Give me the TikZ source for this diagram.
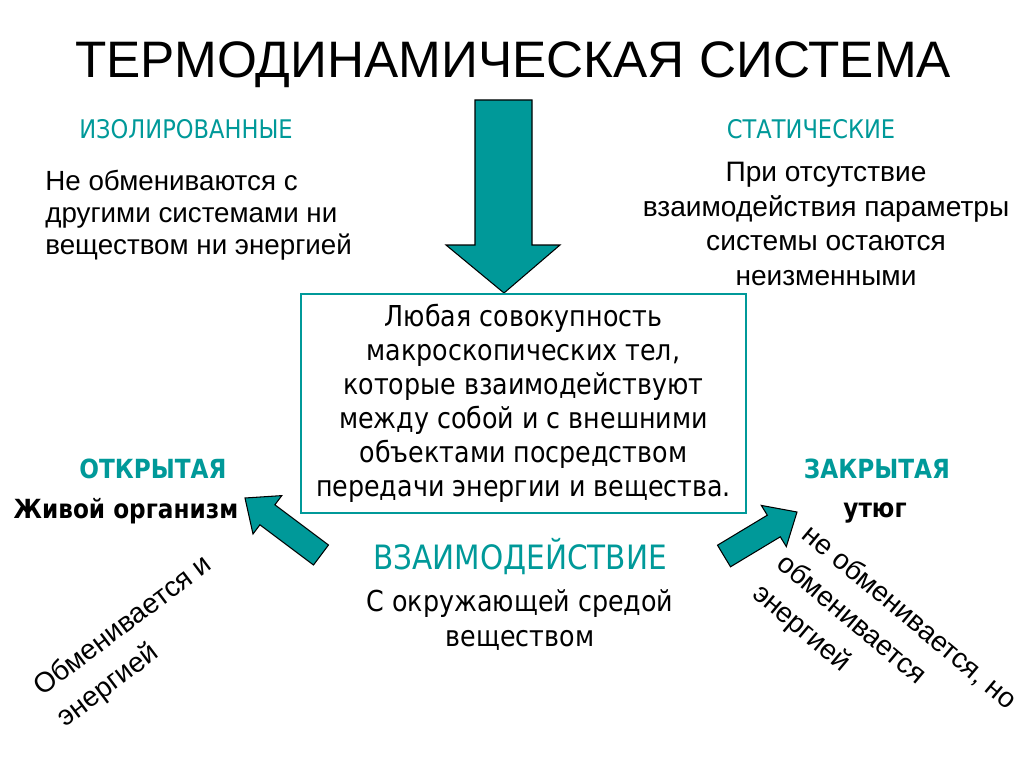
\documentclass[tikz,border=0pt]{standalone}
\usepackage{fontspec}
\setmainfont{Liberation Sans}
\newfontfamily\tahoma{DejaVu Sans}[FakeStretch=0.88]
\definecolor{tealc}{RGB}{0,153,153}
\tikzset{
  kopf/.style={text=tealc,font=\tahoma\fontsize{14.6}{17}\selectfont},
  kopffett/.style={text=tealc,font=\tahoma\bfseries\fontsize{15}{18}\selectfont},
  beispiel/.style={font=\tahoma\bfseries\fontsize{15}{18}\selectfont},
  text16/.style={font=\fontsize{15.8}{18.2}\selectfont},
  schraeg/.style={font=\fontsize{16}{22}\selectfont,align=left},
  blockpfeil/.style={fill=tealc,draw=black,line width=0.6pt,line join=miter}
}
\begin{document}
\begin{tikzpicture}[x=0.02cm,y=-0.02cm]
\useasboundingbox (0,0) rectangle (1024,767);
% Überschrift
\node (titel) at (513,65) {\fontsize{29.2}{34}\selectfont ТЕРМОДИНАМИЧЕСКАЯ СИСТЕМА};
% isolierte / statische Systeme
\node[kopf] (isol) at (186,129) {ИЗОЛИРОВАННЫЕ};
\node[text16,align=left,anchor=west,inner sep=0pt] (isoltext) at (45,215)
  {Не обмениваются с\\другими системами ни\\веществом ни энергией};
\node[kopf] (stat) at (811,129) {СТАТИЧЕСКИЕ};
\node[font=\fontsize{16}{19.7}\selectfont,align=center] (stattext) at (826,224)
  {При отсутствие\\взаимодействия параметры\\системы остаются\\неизменными};
% Pfeil nach unten
\draw[blockpfeil] (475,100) -- (532,100) -- (532,245) -- (560,245) -- (504,293)
  -- (446,245) -- (475,245) -- cycle;
% Kasten mit Definition
\node[draw=tealc,line width=1.6pt,minimum width=8.9cm,minimum height=4.38cm,
  font=\tahoma\fontsize{16.4}{19.4}\selectfont,align=center] (kasten) at (523.5,403.5)
  {Любая совокупность\\макроскопических тел,\\которые взаимодействуют\\между собой и с внешними\\объектами посредством\\передачи энергии и вещества.};
% offene / geschlossene Systeme
\node[kopffett] (offen) at (153,469) {ОТКРЫТАЯ};
\node[beispiel] (organ) at (126,511) {Живой организм};
\node[kopffett] (geschl) at (877,469) {ЗАКРЫТАЯ};
\node[beispiel] (buegel) at (875,513) {утюг};
% schräge Pfeile
\draw[blockpfeil] (245,498) -- (281.8,495.6) -- (274.9,504.8) -- (328.5,545)
  -- (313.5,565) -- (259.9,524.8) -- (253,534) -- cycle;
\draw[blockpfeil] (797,512) -- (786.3,546.6) -- (780.3,536.8) -- (730.5,566.8)
  -- (717.5,545.2) -- (767.3,515.2) -- (761.3,505.4) -- cycle;
% Wechselwirkung
\node[kopf,font=\tahoma\fontsize{19.1}{22}\selectfont] (wechsel) at (520,557) {ВЗАИМОДЕЙСТВИЕ};
\node[font=\tahoma\fontsize{16.4}{19.4}\selectfont,align=center] (umgeb) at (520,620)
  {С окружающей средой\\веществом};
% schräge Texte
\node[schraeg,rotate=37] (offentext) at (135,642) {Обменивается и\\энергией};
\node[schraeg,rotate=-40] (geschltext) at (884,648)
  {не обменивается, но\\обменивается\\энергией};
\end{tikzpicture}
\end{document}
